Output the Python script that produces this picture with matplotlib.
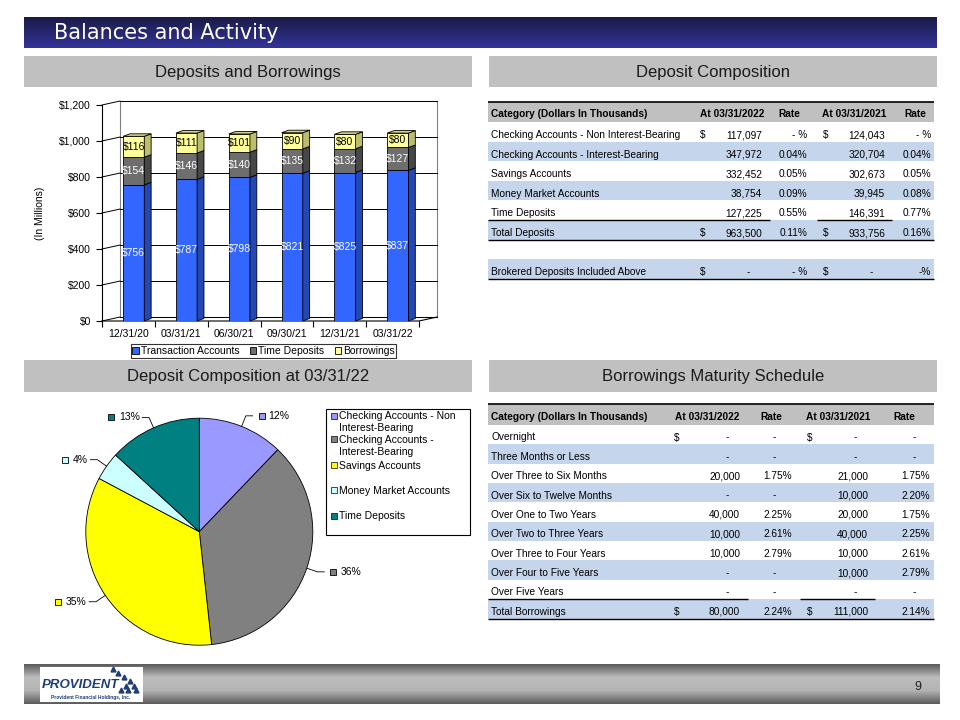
import numpy as np
import matplotlib
matplotlib.use('Agg')
import matplotlib.pyplot as plt
from matplotlib.patches import Rectangle, Polygon, Patch
from matplotlib.colors import LinearSegmentedColormap
from matplotlib import font_manager

# ---- bar chart data (in millions) ----
bar_dates = ['12/31/20', '03/31/21', '06/30/21', '09/30/21', '12/31/21', '03/31/22']
transaction = [756, 787, 798, 821, 825, 837]
time_dep = [154, 146, 140, 135, 132, 127]
borrowings = [116, 111, 101, 90, 80, 80]
bar_series = ['Transaction Accounts', 'Time Deposits', 'Borrowings']

# ---- deposit composition table (dollars in thousands) ----
dep_categories = ['Checking Accounts - Non Interest-Bearing', 'Checking Accounts - Interest-Bearing',
                  'Savings Accounts', 'Money Market Accounts', 'Time Deposits']
dep_2022 = [117097, 347972, 332452, 38754, 127225]
rate_2022 = [None, 0.04, 0.05, 0.09, 0.55]
dep_2021 = [124043, 320704, 302673, 39945, 146391]
rate_2021 = [None, 0.04, 0.05, 0.08, 0.77]
dep_total = [963500, 933756]
dep_total_rate = [0.11, 0.16]

# ---- pie ----
pie_labels = ['Checking Accounts - Non\nInterest-Bearing', 'Checking Accounts -\nInterest-Bearing',
              'Savings Accounts', 'Money Market Accounts', 'Time Deposits']
pie_colors = ['#9999ff', '#808080', '#ffff00', '#ccffff', '#008080']

# ---- borrowings maturity schedule (dollars in thousands) ----
bor_categories = ['Overnight', 'Three Months or Less', 'Over Three to Six Months', 'Over Six to Twelve Months',
                  'Over One to Two Years', 'Over Two to Three Years', 'Over Three to Four Years',
                  'Over Four to Five Years', 'Over Five Years']
bor_2022 = [0, 0, 20000, 0, 40000, 10000, 10000, 0, 0]
bor_rate_2022 = [None, None, 1.75, None, 2.25, 2.61, 2.79, None, None]
bor_2021 = [0, 0, 21000, 10000, 20000, 40000, 10000, 10000, 0]
bor_rate_2021 = [None, None, 1.75, 2.20, 1.75, 2.25, 2.61, 2.79, None]
bor_total = [80000, 111000]
bor_total_rate = [2.24, 2.14]

W, H = 960, 720
fig = plt.figure(figsize=(9.6, 7.2), dpi=100)
plt.rcParams['font.family'] = ['Liberation Sans', 'DejaVu Sans']
names = {f.name for f in font_manager.fontManager.ttflist}
NARROW = 'Liberation Sans Narrow' if 'Liberation Sans Narrow' in names else 'Liberation Sans'
FS = 7.5
TFS = 7.3
BLUE = '#c5d5ec'
GRAY = '#c0c0c0'


def px_axes(x0, y0, x1, y1):
    return fig.add_axes([x0 / W, 1 - y1 / H, (x1 - x0) / W, (y1 - y0) / H])


# background layer in pixel coordinates
bg = px_axes(0, 0, W, H)
bg.set_zorder(0)


def gradient(x0, x1, y0, y1, colors):
    cmap = LinearSegmentedColormap.from_list('g', colors)
    g = np.linspace(0, 1, 64).reshape(-1, 1)
    bg.imshow(g, extent=(x0, x1, y1, y0), aspect='auto', cmap=cmap, interpolation='bilinear', zorder=0)


def band(x0, x1, y0, y1, color):
    bg.add_patch(Rectangle((x0, y0), x1 - x0, y1 - y0, fc=color, ec='none', zorder=1))


def hline(x0, x1, y, lw=1.0):
    bg.plot([x0, x1], [y, y], color='black', lw=lw, solid_capstyle='butt', zorder=2)


def cell(x, y, s, ha='left', bold=False):
    # y is the visual middle of the capitals; draw on the baseline so commas don't shift it
    bg.text(x, y + 3.6, s, ha=ha, va='baseline', fontsize=TFS,
            fontweight='bold' if bold else 'normal', zorder=3)


# title bar
gradient(24, 937, 17, 48, ['#1b1b48', '#333399'])
bg.text(54, 33, 'Balances and Activity', color='white', fontsize=15, va='center',
        family='DejaVu Sans')

# section headers
for x0, x1, y0, y1, title in [(24, 472, 56, 87, 'Deposits and Borrowings'),
                              (489, 937, 56, 87, 'Deposit Composition'),
                              (24, 472, 360, 392, 'Deposit Composition at 03/31/22'),
                              (489, 937, 360, 392, 'Borrowings Maturity Schedule')]:
    band(x0, x1, y0, y1, GRAY)
    bg.text((x0 + x1) / 2, (y0 + y1) / 2 + 0.5, title, ha='center', va='center', fontsize=12, color='#1a1a1a')

# footer
gradient(24, 940, 664, 704, ['#5c5c5c', '#bdbdbd', '#b3b3b3', '#5c5c5c'])
band(40, 143, 667, 702, 'white')
bg.text(42, 685, 'PROVIDENT', fontsize=9.5, fontweight='bold', fontstyle='italic', color='#1f3d7a',
        va='center', family=NARROW)
bg.text(91, 697, 'Provident Financial Holdings, Inc.', fontsize=3.5, fontweight='bold', color='#1f3d7a',
        ha='center', va='center')
bg.plot([118, 124, 130, 126, 134, 121, 128, 136, 113], [673, 677, 681, 686, 686, 690, 690, 690, 669],
        ls='none', marker='^', ms=3.5, color='#1f3d7a', zorder=3)
bg.text(918, 687, '9', fontsize=9, color='#222222', ha='center', va='center', family=NARROW)

# ---- deposit composition table ----
TL, TR = 488, 934
hdr_top, hdr_bot, row_h = 101.7, 122.0, 19.6
band(TL, TR, hdr_top, hdr_bot, GRAY)
hline(TL, TR, hdr_top, 1.2)
for s, xx, ha in [('Category (Dollars In Thousands)', 491, 'left'), ('At 03/31/2022', 732, 'center'),
                  ('Rate', 789, 'center'), ('At 03/31/2021', 854, 'center'), ('Rate', 915, 'center')]:
    cell(xx, 113, s, ha, bold=True)


def rate_txt(r):
    return '- %' if r is None else f'{r:.2f}%'


for k, name in enumerate(dep_categories):
    top = hdr_bot + row_h * k
    if k % 2 == 1:
        band(TL, TR, top, top + row_h, BLUE)
    yc = top + 12.5
    cell(491, yc, name)
    if k == 0:
        cell(703, yc, '$', 'center')
        cell(826, yc, '$', 'center')
    cell(762, yc, f'{dep_2022[k]:,}', 'right')
    cell(807, yc, rate_txt(rate_2022[k]), 'right')
    cell(885, yc, f'{dep_2021[k]:,}', 'right')
    cell(931, yc, rate_txt(rate_2021[k]), 'right')

top = hdr_bot + row_h * 5
band(TL, TR, top, top + row_h, BLUE)
hline(488, 770, top)
hline(817, 892, top)
hline(TL, TR, top + row_h)
yc = top + 12.5
cell(491, yc, 'Total Deposits')
cell(703, yc, '$', 'center')
cell(762, yc, f'{dep_total[0]:,}', 'right')
cell(807, yc, rate_txt(dep_total_rate[0]), 'right')
cell(826, yc, '$', 'center')
cell(885, yc, f'{dep_total[1]:,}', 'right')
cell(931, yc, rate_txt(dep_total_rate[1]), 'right')

top = hdr_bot + row_h * 7
band(TL, TR, top, top + row_h, BLUE)
hline(TL, TR, top + row_h)
yc = top + 12.5
cell(491, yc, 'Brokered Deposits Included Above')
cell(703, yc, '$', 'center')
cell(748, yc, '-', 'center')
cell(807, yc, '- %', 'right')
cell(826, yc, '$', 'center')
cell(871, yc, '-', 'center')
cell(931, yc, '-%', 'right')

# ---- borrowings maturity table ----
hdr_top, hdr_bot, row_h = 404.3, 424.9, 19.37
band(TL, TR, hdr_top, hdr_bot, GRAY)
hline(TL, TR, hdr_top, 1.2)
for s, xx, ha in [('Category (Dollars In Thousands)', 491, 'left'), ('At 03/31/2022', 707, 'center'),
                  ('Rate', 771, 'center'), ('At 03/31/2021', 838, 'center'), ('Rate', 904, 'center')]:
    cell(xx, 416.5, s, ha, bold=True)


def amt_cell(x_right, x_dash, y, v):
    if v:
        cell(x_right, y, f'{v:,}', 'right')
    else:
        cell(x_dash, y, '-', 'center')


def rate_cell(x_right, x_dash, y, r):
    if r is None:
        cell(x_dash, y, '-', 'center')
    else:
        cell(x_right, y, f'{r:.2f}%', 'right')


for k, name in enumerate(bor_categories):
    top = hdr_bot + row_h * k
    if k % 2 == 1:
        band(TL, TR, top, top + row_h, BLUE)
    yc = top + 12
    cell(491, yc, name)
    if k == 0:
        cell(677, yc, '$', 'center')
        cell(810, yc, '$', 'center')
    amt_cell(740, 727, yc, bor_2022[k])
    rate_cell(792, 774, yc, bor_rate_2022[k])
    amt_cell(868, 855, yc, bor_2021[k])
    rate_cell(930, 914, yc, bor_rate_2021[k])

top = hdr_bot + row_h * 9
band(TL, TR, top, top + row_h, BLUE)
hline(488, 748, top)
hline(800, 875, top)
hline(TL, TR, top + row_h)
yc = top + 12
cell(491, yc, 'Total Borrowings')
cell(677, yc, '$', 'center')
amt_cell(740, 727, yc, bor_total[0])
rate_cell(792, 774, yc, bor_total_rate[0])
cell(810, yc, '$', 'center')
amt_cell(868, 855, yc, bor_total[1])
rate_cell(930, 914, yc, bor_total_rate[1])

# pie legend box
bg.add_patch(Rectangle((326, 408.5), 144, 126, fc='white', ec='black', lw=0.8, zorder=1))
for lab, col, ly in zip(pie_labels, pie_colors, [415.7, 439.3, 465, 490, 515.7]):
    bg.add_patch(Rectangle((331, ly - 3), 6, 6, fc=col, ec='black', lw=0.5, zorder=3))
    for j, line in enumerate(lab.split('\n')):
        bg.text(339, ly + 12 * j + 3.7, line, fontsize=FS, va='baseline', zorder=3)

bg.set_xlim(0, W)
bg.set_ylim(H, 0)
bg.axis('off')

# ---- 3D-look stacked bar chart ----
axb = px_axes(102, 105, 419, 321)
axb.set_zorder(2)
axb.patch.set_alpha(0)
x = np.arange(len(bar_dates))
yticks = np.arange(0, 1201, 200)
DX, DY = 0.34, 22   # wall depth
BX, BY = 0.13, 14   # bar depth

axb.add_patch(Rectangle((-0.5 + DX, DY), 6, 1200, fc='white', ec='#808080', lw=0.8, clip_on=False, zorder=0))
for v in yticks:
    axb.plot([-0.5 + DX, 5.5 + DX], [v + DY, v + DY], color='black', lw=0.7, clip_on=False, zorder=1)
    axb.plot([-0.5, -0.5 + DX], [v, v + DY], color='black', lw=0.7, clip_on=False, zorder=1)
axb.plot([-0.5, 5.5, 5.5 + DX], [0, 0, DY], color='black', lw=0.8, clip_on=False, zorder=1)

series = [(transaction, '#3366ff', '#2347b5', 'white'),
          (time_dep, '#6e6e6e', '#474747', 'white'),
          (borrowings, '#ffff99', '#bdbd6e', 'black')]
bottom = np.zeros(len(x))
for vals, face, side, tc in series:
    vals = np.array(vals, dtype=float)
    axb.bar(x + 0.1, vals, width=0.4, bottom=bottom, color=face, edgecolor='black', lw=0.6, zorder=3)
    for i in x:
        b, h = bottom[i], vals[i]
        x1 = i + 0.3
        axb.add_patch(Polygon([(x1, b), (x1 + BX, b + BY), (x1 + BX, b + h + BY), (x1, b + h)],
                              fc=side, ec='black', lw=0.6, zorder=3, clip_on=False))
        axb.text(i + 0.1, b + h / 2, f'${h:.0f}', ha='center', va='center', fontsize=FS, color=tc, zorder=5)
    bottom += vals
for i in x:
    t = bottom[i]
    axb.add_patch(Polygon([(i - 0.1, t), (i - 0.1 + BX, t + BY), (i + 0.3 + BX, t + BY), (i + 0.3, t)],
                          fc='#d6d67e', ec='black', lw=0.6, zorder=3, clip_on=False))

axb.set_xlim(-0.5, 5.5)
axb.set_ylim(0, 1200)
axb.set_yticks(yticks, [f'${v:,.0f}' for v in yticks], fontsize=FS)
axb.set_xticks(x, bar_dates, fontsize=FS)
axb.set_xticks(np.arange(-0.5, 5.6, 1), minor=True)
axb.tick_params(axis='x', which='major', length=0, pad=6)
axb.tick_params(axis='x', which='minor', length=4, width=0.8)
axb.tick_params(axis='y', length=4, width=0.8, pad=4)
for s in ['top', 'right', 'bottom']:
    axb.spines[s].set_visible(False)
axb.spines['left'].set_linewidth(0.8)
fig.text(40 / W, 1 - 213 / H, '(In Millions)', rotation=90, ha='center', va='center', fontsize=FS)

handles = [Patch(fc=c, ec='black', lw=0.6, label=n) for n, (_, c, _, _) in zip(bar_series, series)]
leg = fig.legend(handles=handles, loc='center', bbox_to_anchor=(263.5 / W, 1 - 351 / H), ncol=3, fontsize=FS,
                 frameon=True, fancybox=False, edgecolor='black', handlelength=0.6, handleheight=0.6,
                 handletextpad=0.2, columnspacing=1.0, borderpad=0.15, borderaxespad=0)
leg.get_frame().set_linewidth(0.8)

# ---- pie ----
cx, cy, R = 199.3, 531.7, 113.5
axp = px_axes(cx - R, cy - R, cx + R, cy + R)
axp.set_zorder(2)
wedges, _ = axp.pie(dep_2022, colors=pie_colors, startangle=90, counterclock=False, radius=1,
                    wedgeprops=dict(edgecolor='black', linewidth=0.6))
axp.set_xlim(-1, 1)
axp.set_ylim(-1, 1)
axp.set_aspect('equal')
axp.axis('off')

shares = np.array(dep_2022) / sum(dep_2022)
renderer = fig.canvas.get_renderer()
for w, s, c in zip(wedges, shares, pie_colors):
    ang = np.deg2rad((w.theta1 + w.theta2) / 2)
    ux, uy = np.cos(ang), np.sin(ang)
    ex, ey = 1.1 * ux, 1.1 * uy
    sd = 1 if ux >= 0 else -1
    hx = ex + sd * 0.06
    axp.plot([ux, ex, hx], [uy, ey, ey], color='black', lw=0.6, clip_on=False)
    label = f'{s * 100:.0f}%'
    if sd > 0:
        axp.plot(hx + 0.08, ey, marker='s', ms=4.5, mfc=c, mec='black', mew=0.6, clip_on=False)
        axp.text(hx + 0.14, ey, label, ha='left', va='center', fontsize=FS)
    else:
        t = axp.text(hx - 0.02, ey, label, ha='right', va='center', fontsize=FS)
        wpx = t.get_window_extent(renderer).width
        axp.plot(hx - 0.02 - wpx / R - 0.07, ey, marker='s', ms=4.5, mfc=c, mec='black', mew=0.6, clip_on=False)

fig.savefig('out.png', dpi=100)
